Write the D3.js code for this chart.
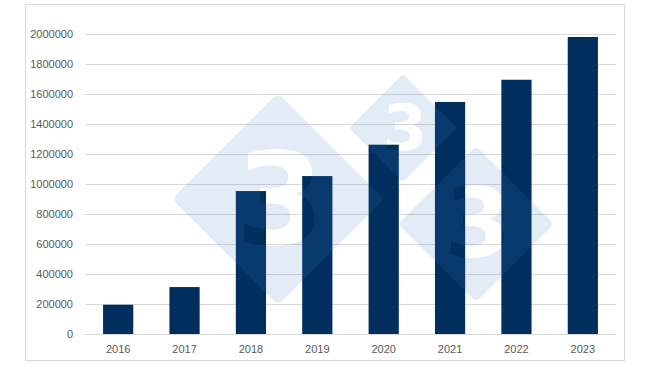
<!DOCTYPE html>
<html><head><meta charset="utf-8">
<script src="https://cdn.jsdelivr.net/npm/d3@7"></script>
<style>body{margin:0;background:#fff}svg{display:block}</style>
</head><body>
<script>
const years = ["2016","2017","2018","2019","2020","2021","2022","2023"];
const values = [195000, 313000, 953000, 1053000, 1262000, 1547000, 1695000, 1980000];
const yTicks = [0,200000,400000,600000,800000,1000000,1200000,1400000,1600000,1800000,2000000];

const W = 650, H = 366;
const svg = d3.select("body").append("svg").attr("width", W).attr("height", H);
svg.append("rect").attr("x", 25.5).attr("y", 4.5).attr("width", 599).attr("height", 356)
  .attr("fill", "#fff").attr("stroke", "#d9d9d9");

const x = d3.scaleBand().domain(years).range([85, 616]).paddingInner(0.545).paddingOuter(0.272);
const y = d3.scaleLinear().domain([0, 2000000]).range([334, 34]);

svg.append("g").selectAll("line").data(yTicks).join("line")
  .attr("x1", 85).attr("x2", 616).attr("y1", d => Math.round(y(d)) + 0.5).attr("y2", d => Math.round(y(d)) + 0.5)
  .attr("stroke", "#d9d9d9").attr("stroke-width", 1);

const yAxis = d3.axisLeft(y).tickValues(yTicks).tickSize(0).tickPadding(0).tickFormat(d => String(d));
svg.append("g").attr("transform", "translate(73,0)").call(yAxis)
  .call(s => s.select(".domain").remove())
  .call(s => s.selectAll("text").attr("fill", "#595959").style("font-family", "'Liberation Sans', Arial, sans-serif").style("font-size", "11px"));

svg.selectAll("rect.bar").data(values).join("rect").attr("class","bar")
  .attr("x", (d,i) => x(years[i])).attr("width", x.bandwidth())
  .attr("y", d => y(d)).attr("height", d => y(0) - y(d))
  .attr("fill", "#002f5f");

const xAxis = d3.axisBottom(x).tickSize(0).tickPadding(0);
svg.append("g").attr("transform", "translate(0,345)").call(xAxis)
  .call(s => s.select(".domain").remove())
  .call(s => s.selectAll("text").attr("fill", "#595959").attr("dy","0.71em").style("font-family", "'Liberation Sans', Arial, sans-serif").style("font-size", "11px"));

// watermark (diamonds with cut-out "3")
const marks = [
  {cx: 278, cy: 199, r: 106, fs: 128},
  {cx: 403, cy: 128, r: 54, fs: 64},
  {cx: 476, cy: 224, r: 78, fs: 96}
];
const defs = svg.append("defs");
marks.forEach((m, i) => {
  const mask = defs.append("mask").attr("id", "wm" + i).attr("maskUnits","userSpaceOnUse")
    .attr("x",0).attr("y",0).attr("width",W).attr("height",H);
  mask.append("rect").attr("x",0).attr("y",0).attr("width",W).attr("height",H).attr("fill","#fff");
  mask.append("text").attr("x", m.cx + 2).attr("y", m.cy).attr("text-anchor","middle").attr("dominant-baseline","central")
    .attr("fill","#000").style("font-family","'DejaVu Sans', sans-serif").style("font-weight","bold").style("font-size", m.fs + "px").text("3");
  const s = m.r / Math.SQRT2;
  svg.append("g").attr("mask", `url(#wm${i})`)
    .append("rect").attr("x", -s).attr("y", -s).attr("width", 2*s).attr("height", 2*s)
    .attr("rx", m.r*0.06).attr("transform", `translate(${m.cx},${m.cy}) rotate(45)`)
    .attr("fill", "rgb(60,120,195)").attr("fill-opacity", 0.15);
});
</script>
</body></html>
